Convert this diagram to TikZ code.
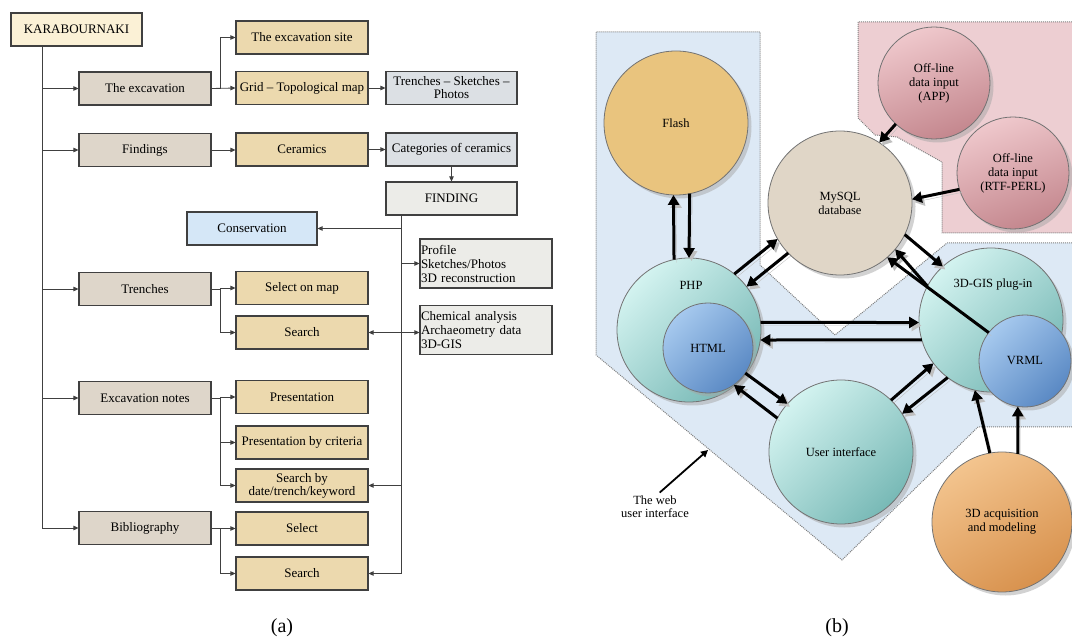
\documentclass[tikz,border=0pt]{standalone}
\usepackage{fontspec}
\setmainfont{Liberation Serif}
\usetikzlibrary{positioning,arrows.meta,shadows}

\definecolor{rootfill}{HTML}{FBF1D6}
\definecolor{lvlonefill}{HTML}{DED6CA}
\definecolor{lvltwofill}{HTML}{ECD9AE}
\definecolor{lvlthreefill}{HTML}{DCE0E4}
\definecolor{notefill}{HTML}{ECECE8}
\definecolor{consfill}{HTML}{D5E7F7}
\definecolor{regblue}{HTML}{DDE9F5}
\definecolor{regpink}{HTML}{EDCED2}
\definecolor{tealL}{HTML}{D3F3F0}
\definecolor{tealD}{HTML}{78B9B6}
\definecolor{blueL}{HTML}{A6C9EE}
\definecolor{blueD}{HTML}{5A89C4}
\definecolor{pinkL}{HTML}{EFC8CC}
\definecolor{pinkD}{HTML}{C4878E}
\definecolor{flashfill}{HTML}{E9C47E}
\definecolor{dbfill}{HTML}{E0D6C7}
\definecolor{acqL}{HTML}{F3C48E}
\definecolor{acqD}{HTML}{D8924E}

\begin{document}
\begin{tikzpicture}[x=1pt,y=-1pt,
  box/.style={draw=black!75,line width=1.1pt,minimum width=132pt,minimum height=33pt,inner sep=1pt,align=center,font=\fontsize{13}{14}\selectfont},
  rootbox/.style={box,fill=rootfill,minimum width=131pt},
  lvlone/.style={box,fill=lvlonefill},
  lvltwo/.style={box,fill=lvltwofill},
  lvlthree/.style={box,fill=lvlthreefill,minimum width=131pt},
  findbox/.style={box,fill=notefill,minimum width=131pt},
  notebox/.style={box,fill=notefill,align=left,minimum height=49pt,text width=130pt,font=\fontsize{13}{14}\selectfont},
  tarr/.style={draw=black!75,line width=0.8pt,-{Triangle[length=5pt,width=4.5pt]}},
  ball/.style={circle,draw=black!55,line width=0.8pt,inner sep=0pt,outer sep=0pt,align=center,font=\fontsize{12.5}{14}\selectfont,drop shadow={shadow xshift=3.5pt,shadow yshift=-3.5pt,fill=black!35}},
  tealball/.style={ball,shading=axis,top color=tealL,bottom color=tealD,shading angle=45},
  blueball/.style={ball,shading=axis,top color=blueL,bottom color=blueD,shading angle=45},
  pinkball/.style={ball,shading=axis,top color=pinkL,bottom color=pinkD,shading angle=20},
  warr/.style={line width=3pt,-{Triangle[length=10pt,width=11pt]},preaction={draw=black!25,transform canvas={shift={(2.5pt,-3pt)}}}},
  region/.style={draw=black!50,densely dotted,line width=1pt}
]
\useasboundingbox (0,0) rectangle (1072,644);

%%% (a) site map
\node[rootbox] (root) at (76.5,29.5) {KARABOURNAKI};
\coordinate (trunk) at (42,0);
\coordinate (br) at (220,0);
\coordinate (fx) at (401,0);

\node[lvlone] (exc) at (145,88.5) {The excavation};
\node[lvlone] (fnd) at (145,150) {Findings};
\node[lvlone] (trn) at (145,289) {Trenches};
\node[lvlone] (notes) at (145,398) {Excavation notes};
\node[lvlone] (bib) at (145,528) {Bibliography};

\node[lvltwo] (site) at (302,37.5) {The excavation site};
\node[lvltwo] (grid) at (302,88) {Grid -- Topological map};
\node[lvltwo] (cer) at (302,149.5) {Ceramics};
\node[lvltwo] (selmap) at (302,288) {Select on map};
\node[lvltwo] (tsearch) at (302,332.5) {Search};
\node[lvltwo] (pres) at (302,397) {Presentation};
\node[lvltwo] (prescrit) at (302,442.5) {Presentation by criteria};
\node[lvltwo,font=\fontsize{13}{13}\selectfont] (sdate) at (302,485.5) {Search by\\date/trench/keyword};
\node[lvltwo] (bsel) at (302,528.5) {Select};
\node[lvltwo] (bsearch) at (302,573.5) {Search};

\node[lvlthree,font=\fontsize{13}{13}\selectfont] (tsp) at (451.5,88) {Trenches -- Sketches --\\Photos};
\node[lvlthree] (categ) at (451.5,149.5) {Categories of ceramics};
\node[findbox] (finding) at (451.5,198.5) {FINDING};
\node[box,fill=consfill,minimum width=130pt] (consv) at (252,228.5) {Conservation};
\node[notebox] (profile) at (486,263.5) {Profile\\Sketches/Photos\\3D reconstruction};
\node[notebox] (chem) at (486,330) {Chemical analysis\\Archaeometry data\\3D-GIS};

% trunk
\draw[tarr] (root.south -| trunk) |- (exc.west);
\draw[tarr] (root.south -| trunk) |- (fnd.west);
\draw[tarr] (root.south -| trunk) |- (trn.west);
\draw[tarr] (root.south -| trunk) |- (notes.west);
\draw[tarr] (root.south -| trunk) |- (bib.west);
% branches
\draw[tarr] (exc.east) -- (grid.west);
\draw[tarr] (exc.east) -- (exc.east -| br) |- (site.west);
\draw[tarr] (fnd.east) -- (fnd.east -| cer.west);
\draw[tarr] (grid.east) -- (tsp.west);
\draw[tarr] (cer.east) -- (cer.east -| categ.west);
\draw[tarr] (categ.south) -- (finding.north);
\draw[tarr] (trn.east) -- (trn.east -| br) |- (selmap.west);
\draw[tarr] (trn.east) -- (trn.east -| br) |- (tsearch.west);
\draw[tarr] (notes.east) -- (notes.east -| br) |- (pres.west);
\draw[tarr] (notes.east) -- (notes.east -| br) |- (prescrit.west);
\draw[tarr] (notes.east) -- (notes.east -| br) |- (sdate.west);
\draw[tarr] (bib.east) -- (bib.east -| br) |- (bsel.west);
\draw[tarr] (bib.east) -- (bib.east -| br) |- (bsearch.west);
% from FINDING
\draw[tarr] (finding.south -| fx) |- (consv.east);
\draw[tarr] (finding.south -| fx) |- (profile.west);
\draw[tarr] (finding.south -| fx) |- (sdate.east);
\draw[tarr] (finding.south -| fx) |- (bsearch.east);
\draw[tarr,{Triangle[length=5pt,width=4.5pt]}-{Triangle[length=5pt,width=4.5pt]}] (tsearch.east) -- (tsearch.east -| chem.west);

\node[font=\fontsize{20}{22}\selectfont] (capa) at (282,628) {(a)};

%%% (b) architecture
%Shape: web user interface area
\fill[regblue] (596,32) -- (760,32) -- (760,265) -- (835,335) -- (947,243) -- (1072,243) -- (1072,427) -- (978,427) -- (842,560) -- (596,355) -- cycle;
\draw[region] (1072,427) -- (978,427) -- (842,560) -- (596,355) -- (596,32) -- (760,32) -- (760,265) -- (835,335) -- (947,243) -- (1072,243);
%Shape: off-line area
\fill[regpink] (858,22) -- (1072,22) -- (1072,233) -- (942,233) -- (942,162) -- (897,137) -- (875,135) -- (858,118) -- cycle;
\draw[region] (1072,22) -- (858,22) -- (858,118) -- (875,135) -- (897,137) -- (942,162) -- (942,233) -- (1072,233);

\node[ball,fill=flashfill,minimum size=144pt] (flash) at (676,123) {Flash};
\node[pinkball,minimum size=112pt] (app) at (934,83) {Off-line\\data input\\(APP)};
\node[pinkball,minimum size=112pt] (rtf) at (1013,173) {Off-line\\data input\\(RTF-PERL)};
\node[ball,fill=dbfill,minimum size=144pt] (mysql) at (840,203) {MySQL\\database};
\node[tealball,minimum size=144pt] (php) at (689,330) {};
\node[blueball,minimum size=90pt] (html) at (708,348) {HTML};
\node[tealball,minimum size=144pt] (gis) at (991,320) {};
\node[blueball,minimum size=92pt] (vrml) at (1025,361) {VRML};
\node[tealball,minimum size=144pt] (ui) at (841,452) {User interface};
\node[ball,shading=axis,top color=acqL,bottom color=acqD,shading angle=30,minimum size=140pt] (acq) at (1002,522) {3D acquisition\\and modeling};
\node[font=\fontsize{12.5}{14}\selectfont] (phplbl) at (691,285) {PHP};
\node[font=\fontsize{12.5}{14}\selectfont] (gislbl) at (993,285) {3D-GIS plug-in};

% connectors
\draw[warr] (php.102) -- (flash.268);
\draw[warr] (flash.281) -- (php.90);
\draw[warr] (php.51) -- (mysql.210);
\draw[warr] (mysql.224) -- (php.37);
\draw[warr] (mysql.334) -- (gis.132);
\draw[warr] (gis.152) -- (mysql.320);
\draw[warr] (vrml.142) -- (mysql.311);
\draw[warr] (php.6) -- (gis.182);
\draw[warr] (gis.196) -- (php.352);
\draw[warr] (html.326) -- (ui.138);
\draw[warr] (ui.152) -- (html.305);
\draw[warr] (ui.46) -- (gis.217);
\draw[warr] (gis.233) -- (ui.32);
\draw[warr] (acq.100) -- (gis.257);
\draw[warr] (acq.77) -- (vrml.261);
\draw[warr] (app.227) -- (mysql.57);
\draw[warr] (rtf.197) -- (mysql.3);

% Text Node
\node[font=\fontsize{12.5}{13}\selectfont,align=center] (weblbl) at (655,507) {The web\\user interface};
\coordinate (webpt) at (708,450);
\draw[line width=1.8pt,-{Triangle[length=7pt,width=7pt]}] (weblbl.72) -- (webpt);

\node[font=\fontsize{20}{22}\selectfont] (capb) at (837,628) {(b)};
\end{tikzpicture}
\end{document}
